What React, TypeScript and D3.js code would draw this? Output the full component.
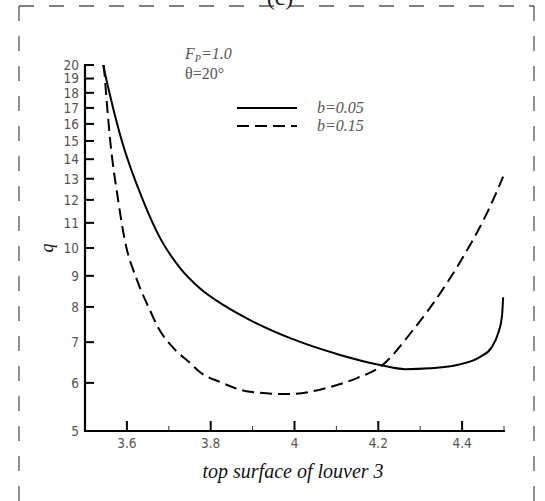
import * as d3 from "d3";

// b = 0.05 (solid)
const solidX = [3.543, 3.567, 3.588, 3.638, 3.679, 3.727, 3.774, 3.834, 3.894, 3.996, 4.109, 4.204, 4.264, 4.323, 4.388, 4.443, 4.471, 4.486, 4.495, 4.498];
const solidQ = [20, 17, 15, 12, 10.39, 9.27, 8.59, 8.03, 7.61, 7.08, 6.67, 6.42, 6.32, 6.34, 6.42, 6.62, 6.87, 7.24, 7.7, 8.3];

// b = 0.15 (dashed)
const dashX = [3.545, 3.56, 3.579, 3.595, 3.624, 3.655, 3.674, 3.715, 3.751, 3.774, 3.822, 3.894, 3.989, 4.078, 4.149, 4.204, 4.283, 4.364, 4.412, 4.459, 4.498];
const dashQ = [20, 15.05, 12, 10.3, 8.86, 7.9, 7.41, 6.8, 6.47, 6.25, 6.02, 5.8, 5.75, 5.89, 6.11, 6.37, 7.33, 8.76, 9.92, 11.4, 13.1];

const yTicks = [5, 6, 7, 8, 9, 10, 11, 12, 13, 14, 15, 16, 17, 18, 19, 20];
const xMajor = [3.6, 3.8, 4, 4.2, 4.4];
const xMinor = [3.7, 3.9, 4.1, 4.3, 4.5];

const W = 545;
const H = 501;

export default function App() {
  const x = d3.scaleLinear().domain([3.5, 4.5]).range([85, 504]);
  const y = d3.scaleLog().domain([5, 20]).range([431, 65]);

  const line = d3
    .line<[number, number]>()
    .x((d) => x(d[0]))
    .y((d) => y(d[1]))
    .curve(d3.curveMonotoneX);

  const solid = line(solidX.map((v, i) => [v, solidQ[i]]));
  const dashed = line(dashX.map((v, i) => [v, dashQ[i]]));

  const tickFont = "'DejaVu Sans Condensed', 'Liberation Sans Narrow', 'Liberation Sans', sans-serif";
  const serif = "'Liberation Serif', 'DejaVu Serif', serif";

  return (
    <svg width={W} height={H} style={{ position: "absolute", left: 0, top: 0, background: "#fff" }}>
      {/* frame */}
      <g stroke="#555" strokeWidth={1.3} strokeDasharray="15,15" fill="none">
        <line x1={19} y1={6} x2={534} y2={6} />
        <line x1={19} y1={6} x2={19} y2={H} />
        <line x1={534} y1={6} x2={534} y2={H} />
      </g>
      <text x={280} y={5} textAnchor="middle" fontFamily={serif} fontSize={24} fill="#222">(c)</text>

      {/* axes */}
      <line x1={85} y1={64} x2={85} y2={432} stroke="#000" strokeWidth={2.2} />
      <line x1={84} y1={431} x2={505} y2={431} stroke="#000" strokeWidth={2.2} />

      {yTicks.map((t) => (
        <g key={t}>
          <line x1={85} x2={94} y1={y(t)} y2={y(t)} stroke="#000" strokeWidth={2} />
          <text x={79} y={y(t)} dy="0.36em" textAnchor="end" fontFamily={tickFont} fontSize={13.5} fill="#555">
            {t}
          </text>
        </g>
      ))}

      {xMajor.map((t) => (
        <g key={t}>
          <line x1={x(t)} x2={x(t)} y1={431} y2={421} stroke="#000" strokeWidth={2} />
          <text x={x(t)} y={448} textAnchor="middle" fontFamily={tickFont} fontSize={13.5} fill="#555">
            {t}
          </text>
        </g>
      ))}
      {xMinor.map((t) => (
        <line key={t} x1={x(t)} x2={x(t)} y1={431} y2={426} stroke="#333" strokeWidth={1} />
      ))}

      {/* axis titles */}
      <text x={293} y={478} textAnchor="middle" fontFamily={serif} fontStyle="italic" fontSize={20} fill="#111">
        top surface of louver 3
      </text>
      <text transform="translate(53,248) rotate(-90)" textAnchor="middle" fontFamily={serif} fontStyle="italic" fontSize={18} fill="#111">
        q
      </text>

      {/* curves */}
      <path d={solid ?? ""} fill="none" stroke="#000" strokeWidth={2} />
      <path d={dashed ?? ""} fill="none" stroke="#000" strokeWidth={2} strokeDasharray="12,6" />

      {/* annotations */}
      <text x={185} y={59} fontFamily={serif} fontStyle="italic" fontSize={16} fill="#555">
        F<tspan fontSize={10} dy={3}>P</tspan>
        <tspan dy={-3}>=1.0</tspan>
      </text>
      <text x={185} y={79} fontFamily={serif} fontSize={16} fill="#555">
        θ=20°
      </text>

      <line x1={237} x2={297} y1={108} y2={108} stroke="#000" strokeWidth={2} />
      <text x={317} y={113} fontFamily={serif} fontStyle="italic" fontSize={16} fill="#555">b=0.05</text>
      <line x1={237} x2={297} y1={126} y2={126} stroke="#000" strokeWidth={2} strokeDasharray="12,6" />
      <text x={317} y={131} fontFamily={serif} fontStyle="italic" fontSize={16} fill="#555">b=0.15</text>
    </svg>
  );
}
